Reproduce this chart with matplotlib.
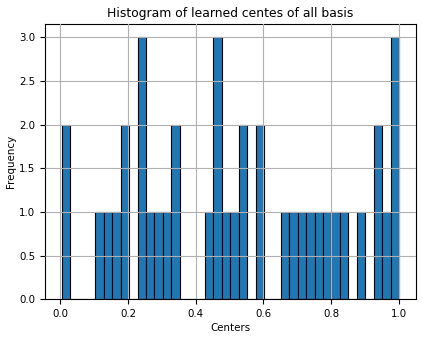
import numpy as np
import matplotlib
matplotlib.use("Agg")
import matplotlib.pyplot as plt

# Histogram counts per bin (40 bins spanning the range of learned centers)
counts = [2, 0, 0, 0, 1, 1, 1, 2, 0, 3,
          1, 1, 1, 2, 0, 0, 0, 1, 3, 1,
          1, 2, 0, 2, 0, 0, 1, 1, 1, 1,
          1, 1, 1, 1, 0, 1, 0, 2, 1, 3]
range_min = 0.0047
range_max = 1.0
n_bins = 40

edges = np.linspace(range_min, range_max, n_bins + 1)
mids = (edges[:-1] + edges[1:]) / 2

fig = plt.figure(figsize=(4.23, 3.39), dpi=100)
ax = fig.add_axes([0.106, 0.117, 0.877, 0.812])
ax.hist(mids, bins=edges, weights=counts, color="#1f77b4", edgecolor="black", linewidth=0.8)
ax.grid(True, color="#b0b0b0", linewidth=0.8)
ax.set_axisbelow(False)
ax.set_title("Histogram of learned centes of all basis", fontsize=8.9, pad=5)
ax.set_xlabel("Centers", fontsize=7.4, labelpad=3)
ax.set_ylabel("Frequency", fontsize=7.4, labelpad=2)
ax.tick_params(labelsize=7.4)
fig.savefig("out.png", dpi=100)
